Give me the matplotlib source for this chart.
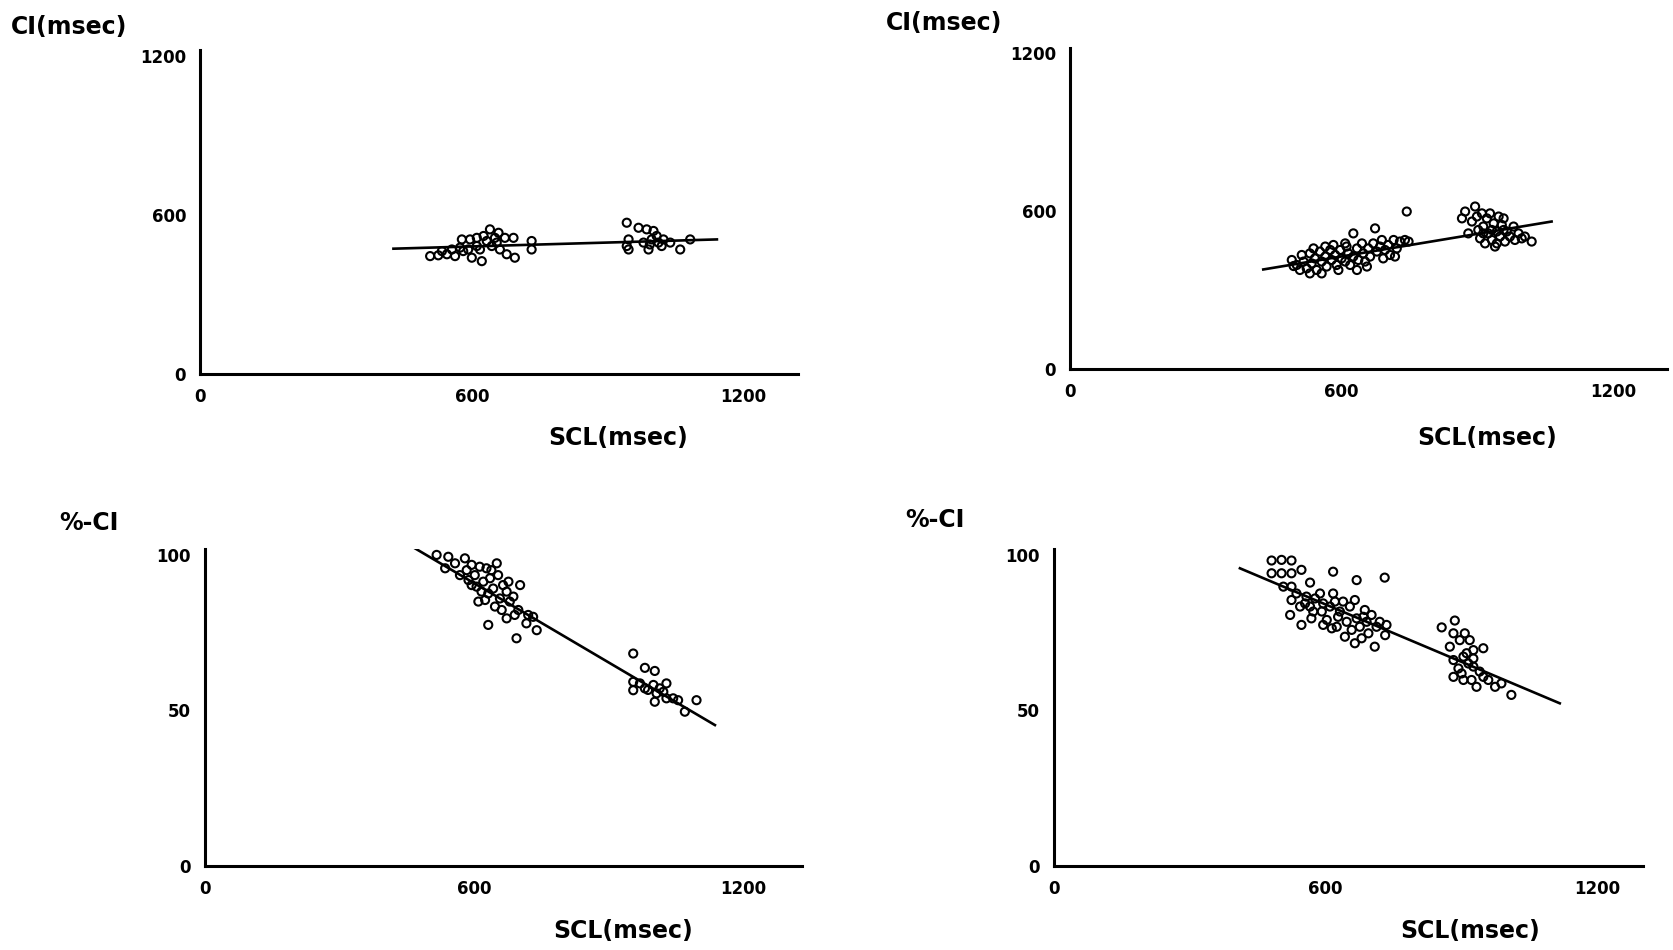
import matplotlib
matplotlib.use('Agg')
import matplotlib.pyplot as plt

# Panel A: CI vs SCL (top left)
scl_a = [508, 526, 545, 563, 578, 581, 596, 600, 611, 618, 622, 626, 640, 644, 651, 659,
         662, 673, 677, 692, 695, 732, 732, 574, 592, 611, 633, 556, 534, 655,
         942, 946, 946, 968, 986, 990, 997, 1001, 1008, 1012, 1019, 1023, 1038, 1060,
         1082, 942, 979, 993]
ci_a = [445, 448, 452, 445, 508, 464, 508, 439, 514, 470, 426, 521, 546, 483, 514, 533,
        470, 514, 452, 514, 439, 502, 470, 477, 470, 483, 502, 470, 464, 496,
        571, 508, 470, 552, 546, 470, 508, 540, 521, 496, 483, 508, 496, 470,
        508, 483, 496, 489]
fit_a_x = [427, 1141]
fit_a_y = [473, 508]

# Panel B: CI vs SCL (top right)
scl_b = [490, 501, 512, 516, 523, 530, 534, 541, 545, 552, 556, 564, 567, 575, 578, 586,
         589, 597, 600, 608, 611, 615, 619, 626, 626, 634, 637, 645, 648, 652, 659, 663,
         670, 674, 678, 685, 689, 692, 696, 703, 707, 715, 718, 722, 729, 740, 744, 748,
         508, 530, 593, 656, 564, 608, 556, 494, 538, 634, 582,
         866, 873, 880, 888, 895, 899, 906, 910, 913, 917, 921, 924, 928, 932, 936, 939,
         943, 947, 950, 954, 958, 961, 965, 972, 980, 983, 991, 998, 1005, 1020, 913,
         932, 958, 943, 902]
ci_b = [414, 395, 433, 408, 382, 439, 401, 420, 376, 446, 408, 427, 389, 452, 414, 433,
        395, 452, 420, 408, 465, 439, 395, 515, 427, 458, 414, 477, 439, 408, 458, 427,
        477, 534, 446, 465, 490, 420, 452, 471, 433, 490, 427, 458, 484, 490, 598, 484,
        376, 363, 376, 389, 465, 477, 363, 391, 458, 376, 471,
        572, 598, 515, 560, 617, 579, 496, 591, 541, 477, 572, 515, 591, 490, 553, 465,
        522, 579, 503, 547, 572, 484, 522, 503, 541, 490, 515, 496, 503, 484, 515,
        528, 528, 477, 528]
fit_b_x = [427, 1064]
fit_b_y = [378, 560]

# Panel C: %-CI vs SCL (bottom left)
scl_c = [516, 542, 535, 557, 579, 583, 587, 594, 601, 605, 609, 612, 620, 627, 631, 631,
         635, 642, 650, 653, 657, 661, 664, 672, 676, 679, 687, 694, 698, 702, 716, 720,
         731, 739, 568, 616, 646, 672, 594, 624, 638, 690,
         954, 980, 1002, 954, 954, 969, 980, 999, 1006, 1002, 1021, 1028, 1028, 1043,
         1054, 1069, 1095, 987, 1013]
pct_c = [100.0, 99.4, 95.7, 97.3, 98.9, 95.1, 91.9, 96.8, 93.5, 89.8, 85.0, 96.2, 91.4,
         95.7, 77.5, 87.6, 92.5, 89.2, 97.3, 93.5, 86.0, 82.3, 90.3, 88.2, 91.4, 85.0,
         86.6, 73.2, 82.3, 90.3, 78.0, 80.7, 80.1, 75.8, 93.5, 88.2, 83.4, 79.6, 90.3,
         85.5, 95.1, 80.7,
         68.3, 63.7, 62.7, 59.2, 56.5, 58.7, 57.1, 58.2, 55.5, 52.8, 56.0, 58.7, 53.9,
         53.9, 53.3, 49.6, 53.3, 56.6, 57.1]
fit_c_x = [468, 1136]
fit_c_y = [102.1, 45.3]

# Panel D: %-CI vs SCL (bottom right)
scl_d = [481, 503, 525, 481, 503, 525, 547, 617, 669, 731, 566, 507, 525,
         525, 536, 544, 522, 547, 555, 566, 569, 577, 588, 592, 595, 603, 610, 614, 617,
         621, 628, 632, 639, 643, 647, 654, 658, 665, 665, 669, 676, 680, 687, 691, 695,
         702, 709, 713, 720, 732, 735, 595, 573, 558, 625, 684,
         857, 886, 883, 875, 897, 908, 919, 912, 927, 949, 883, 894, 905, 916, 883, 901,
         927, 941, 923, 934, 949, 960, 975, 989, 1011, 905, 927]
pct_d = [98.2, 98.4, 98.2, 94.1, 94.1, 94.1, 95.2, 94.6, 91.9, 92.7, 91.1, 89.8, 89.8,
         85.5, 87.6, 83.4, 80.7, 77.5, 84.4, 83.4, 79.6, 86.0, 87.6, 81.8, 84.4, 79.1,
         83.4, 76.4, 87.6, 85.0, 80.1, 81.8, 85.0, 73.7, 78.5, 83.4, 75.9, 85.5, 71.6,
         79.6, 76.9, 73.2, 82.3, 78.5, 74.8, 80.7, 70.5, 76.9, 78.5, 74.2, 77.5, 77.5,
         81.8, 86.6, 76.9, 80.1,
         76.7, 78.9, 74.8, 70.5, 72.6, 74.8, 72.6, 68.4, 69.4, 70.0, 66.2, 63.5, 67.3,
         65.1, 60.8, 61.9, 64.1, 62.5, 59.8, 57.6, 60.8, 59.8, 57.6, 58.7, 55.0, 59.8, 66.7]
fit_d_x = [411, 1118]
fit_d_y = [95.7, 52.3]

W, H = 1673, 950
FONT = 'DejaVu Sans'

fig = plt.figure(figsize=(W / 100, H / 100), dpi=100)
fig.patch.set_facecolor('white')


def px_axes(left, bottom_px, right, top_px):
    # axes box from pixel edges (y measured from top)
    return fig.add_axes([left / W, 1 - bottom_px / H, (right - left) / W, (bottom_px - top_px) / H])


def panel(ax, x, y, fx, fy, xmax, ymax, yticks):
    ax.scatter(x, y, s=34, facecolors='none', edgecolors='black', linewidths=1.5, zorder=3)
    ax.plot(fx, fy, color='black', lw=1.9, zorder=2)
    ax.set_xlim(0, xmax)
    ax.set_ylim(0, ymax)
    ax.set_xticks([0, 600, 1200])
    ax.set_yticks(yticks)
    for side in ('top', 'right'):
        ax.spines[side].set_visible(False)
    for side in ('left', 'bottom'):
        ax.spines[side].set_linewidth(2.2)
        ax.spines[side].set_color('black')
    ax.tick_params(length=0, labelsize=12, pad=10)
    for lab in ax.get_xticklabels() + ax.get_yticklabels():
        lab.set_fontweight('bold')
        lab.set_family(FONT)
    ax.patch.set_alpha(0)


ax1 = px_axes(200, 374, 798, 50)
panel(ax1, scl_a, ci_a, fit_a_x, fit_a_y, 1320, 1223, [0, 600, 1200])

ax2 = px_axes(1070, 369, 1667, 48)
panel(ax2, scl_b, ci_b, fit_b_x, fit_b_y, 1319, 1219, [0, 600, 1200])

ax3 = px_axes(205, 866, 802, 549)
panel(ax3, scl_c, pct_c, fit_c_x, fit_c_y, 1330, 101.9, [0, 50, 100])

ax4 = px_axes(1054, 866, 1643, 549)
panel(ax4, scl_d, pct_d, fit_d_x, fit_d_y, 1302, 101.9, [0, 50, 100])

lab_kw = dict(fontsize=17, fontweight='bold', family=FONT)

# y-axis titles (top-left of each panel)
fig.text(11 / W, 1 - 27 / H, 'CI(msec)', ha='left', va='center', **lab_kw)
fig.text(886 / W, 1 - 23 / H, 'CI(msec)', ha='left', va='center', **lab_kw)
fig.text(59 / W, 1 - 523 / H, '%-CI', ha='left', va='center', **lab_kw)
fig.text(905 / W, 1 - 520 / H, '%-CI', ha='left', va='center', **lab_kw)

# x-axis titles
fig.text(618 / W, 1 - 438 / H, 'SCL(msec)', ha='center', va='center', **lab_kw)
fig.text(1487 / W, 1 - 438 / H, 'SCL(msec)', ha='center', va='center', **lab_kw)
fig.text(623 / W, 1 - 931 / H, 'SCL(msec)', ha='center', va='center', **lab_kw)
fig.text(1470 / W, 1 - 931 / H, 'SCL(msec)', ha='center', va='center', **lab_kw)

fig.savefig('out.png', dpi=100, facecolor='white')
plt.close(fig)
